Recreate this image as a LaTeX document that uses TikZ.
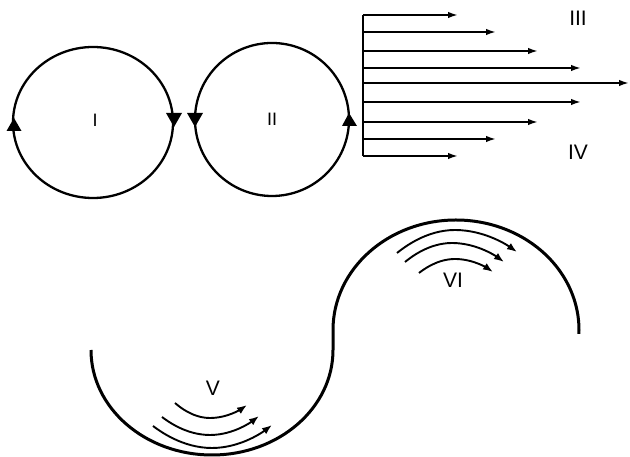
\documentclass[tikz,border=0pt]{standalone}
\usepackage{fontspec}
\setmainfont{Liberation Sans}
\usetikzlibrary{arrows.meta}
\tikzset{
  loop/.style={line width=2.3pt},
  tri/.style={fill=black},
  flow/.style={line width=1.8pt,-{Latex[length=10pt,width=6.5pt]}},
  wall/.style={line width=3pt, line join=round},
  swirl/.style={line width=1.9pt,-{Latex[length=10pt,width=7.5pt]}},
  lab/.style={font=\fontsize{21}{21}\selectfont, inner sep=0pt},
  labs/.style={font=\fontsize{18}{18}\selectfont, inner sep=0pt}
}
\begin{document}
\begin{tikzpicture}[x=1pt,y=1pt]
\useasboundingbox (0,0) rectangle (630,457);
% circles
\draw[loop] (93,334.5) ellipse [x radius=80, y radius=75.5];
\draw[loop] (272,337.5) ellipse [x radius=77, y radius=76.5];
\fill[tri] (14,339) -- (6.5,326) -- (21.5,326) -- cycle;
\fill[tri] (174,330) -- (166,344) -- (182,344) -- cycle;
\fill[tri] (195,330) -- (187,344) -- (203,344) -- cycle;
\fill[tri] (349,344) -- (342,331) -- (357,331) -- cycle;
\node[labs] (l1) at (95,337) {I};
\node[labs] (l2) at (272,338) {II};
% shear flow
\coordinate (top) at (363,442);
\coordinate (bot) at (363,301);
\draw[line width=1.8pt] (top) -- (bot);
\foreach \y/\x [count=\i] in {442/458,425/496,406/538,389/581,374/629,355/581,335/538,318/496,301/458}{
  \coordinate (s\i) at (363,\y);
  \coordinate (e\i) at (\x,\y);
  \draw[flow] (s\i) -- (e\i);
}
\node[lab] (l3) at (578,439) {III};
\node[lab] (l4) at (578,305) {IV};
% S-shaped wall
\draw[wall] (91,107) arc[start angle=180, end angle=360, x radius=121, y radius=105]
  -- (333,127)
  arc[start angle=180, end angle=-2, x radius=123, y radius=110];
% V arcs
\coordinate (va1) at (175,54); \coordinate (vb1) at (210,39); \coordinate (vc1) at (247,52);
\coordinate (va2) at (162,40); \coordinate (vb2) at (210,22); \coordinate (vc2) at (259,41);
\coordinate (va3) at (153,31); \coordinate (vb3) at (212,9);  \coordinate (vc3) at (272,32);
\foreach \i in {1,2,3}{ \draw[swirl] (va\i) parabola bend (vb\i) (vc\i); }
\node[lab] (l5) at (213,69) {V};
% VI arcs
\coordinate (wa1) at (397,204); \coordinate (wb1) at (455,227); \coordinate (wc1) at (517,205);
\coordinate (wa2) at (405,195); \coordinate (wb2) at (452,214); \coordinate (wc2) at (504,195);
\coordinate (wa3) at (419,184); \coordinate (wb3) at (455,198); \coordinate (wc3) at (493,185);
\foreach \i in {1,2,3}{ \draw[swirl] (wa\i) parabola bend (wb\i) (wc\i); }
\node[lab] (l6) at (453,177) {VI};
\end{tikzpicture}
\end{document}
